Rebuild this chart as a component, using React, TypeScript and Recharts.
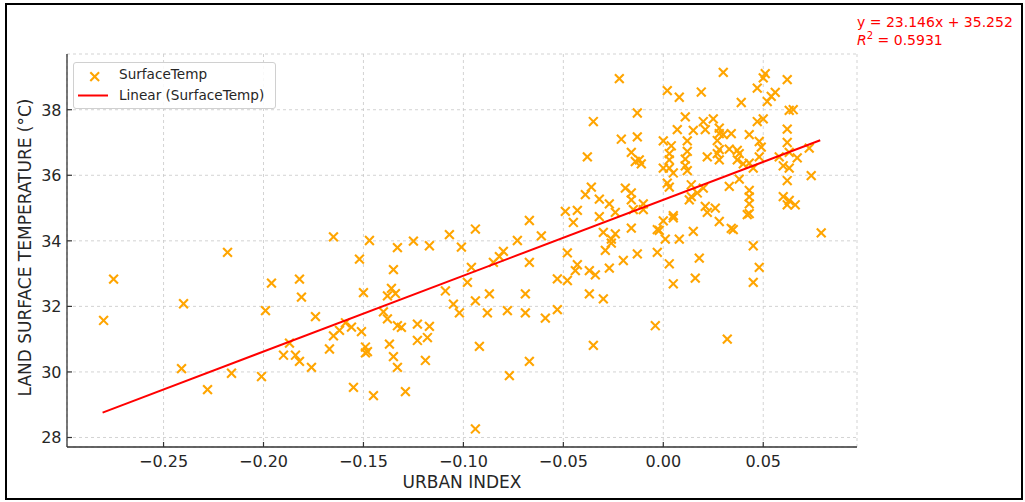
import React from 'react';
import { ScatterChart, Scatter, XAxis, YAxis, CartesianGrid } from 'recharts';

// urban index vs land surface temperature
const urbanIndex = [
  -0.280, -0.275, -0.241, -0.240, -0.228, -0.218, -0.216, -0.201, -0.199, -0.196,
  -0.190, -0.187, -0.184, -0.182, -0.181, -0.182, -0.176, -0.174, -0.167, -0.165,
  -0.165, -0.162, -0.159, -0.156, -0.155, -0.152, -0.151, -0.150, -0.149, -0.148,
  -0.149, -0.147, -0.145, -0.140, -0.138, -0.138, -0.136, -0.137, -0.135, -0.135,
  -0.134, -0.133, -0.133, -0.133, -0.131, -0.129, -0.125, -0.123, -0.123, -0.119,
  -0.118, -0.117, -0.117, -0.109, -0.107, -0.105, -0.102, -0.101, -0.098, -0.096,
  -0.094, -0.094, -0.094, -0.092, -0.088, -0.087, -0.085, -0.082, -0.080, -0.078,
  -0.077, -0.073, -0.069, -0.069, -0.067, -0.067, -0.067, -0.061, -0.059, -0.053,
  -0.053, -0.049, -0.048, -0.048, -0.045, -0.043, -0.043, -0.044, -0.038, -0.039,
  -0.037, -0.037, -0.036, -0.035, -0.035, -0.034, -0.032, -0.032, -0.030, -0.030,
  -0.029, -0.027, -0.027, -0.026, -0.026, -0.024, -0.024, -0.022, -0.021, -0.020,
  -0.019, -0.016, -0.016, -0.016, -0.016, -0.015, -0.014, -0.013, -0.013, -0.013,
  -0.012, -0.011, -0.010, -0.010, -0.004, -0.003, -0.003, -0.002, 0.000, 0.000,
  0.000, 0.001, 0.002, 0.002, 0.003, 0.003, 0.003, 0.003, 0.003, 0.004,
  0.005, 0.005, 0.005, 0.005, 0.007, 0.008, 0.008, 0.011, 0.011, 0.011,
  0.012, 0.012, 0.012, 0.013, 0.014, 0.014, 0.015, 0.015, 0.016, 0.017,
  0.018, 0.019, 0.020, 0.020, 0.021, 0.021, 0.022, 0.022, 0.025, 0.026,
  0.027, 0.027, 0.028, 0.028, 0.028, 0.028, 0.028, 0.030, 0.030, 0.032,
  0.033, 0.033, 0.034, 0.034, 0.035, 0.037, 0.037, 0.038, 0.038, 0.039,
  0.040, 0.042, 0.043, 0.043, 0.043, 0.043, 0.043, 0.043, 0.045, 0.045,
  0.045, 0.047, 0.047, 0.048, 0.048, 0.048, 0.049, 0.050, 0.050, 0.051,
  0.052, 0.054, 0.056, 0.058, 0.060, 0.060, 0.062, 0.062, 0.062, 0.062,
  0.062, 0.063, 0.063, 0.063, 0.063, 0.065, 0.066, 0.067, 0.073, 0.074,
  0.079,
];

const surfaceTemp = [
  31.57, 32.83, 30.10, 32.08, 29.46, 33.65, 29.96, 29.86, 31.87, 32.71,
  30.51, 30.88, 30.51, 32.83, 32.28, 30.32, 30.14, 31.69, 30.70, 34.12,
  31.10, 31.27, 31.50, 31.37, 29.53, 33.44, 31.23, 32.42, 30.76, 30.62,
  30.58, 34.01, 29.28, 31.83, 31.62, 32.32, 32.55, 30.85, 33.12, 30.47,
  32.39, 31.41, 30.14, 33.79, 31.36, 29.40, 33.99, 31.46, 30.96, 30.35,
  31.05, 31.39, 33.85, 32.47, 34.19, 32.07, 31.80, 33.81, 32.73, 33.19,
  34.36, 32.17, 28.26, 30.78, 31.80, 32.38, 33.34, 33.52, 33.68, 31.87,
  29.89, 34.01, 32.38, 31.80, 34.62, 33.34, 30.32, 34.15, 31.64, 32.84,
  31.90, 34.90, 33.63, 32.79, 34.56, 34.93, 33.27, 33.09, 36.56, 35.41,
  33.09, 32.38, 35.64, 37.64, 30.81, 32.96, 34.74, 35.27, 34.26, 32.23,
  33.71, 35.13, 33.17, 34.05, 33.93, 34.87, 34.21, 38.95, 37.10, 33.40,
  35.61, 36.70, 35.46, 35.25, 34.39, 34.95, 36.42, 37.90, 37.17, 33.60,
  36.47, 36.35, 35.13, 34.95, 31.41, 34.34, 33.65, 34.32, 37.05, 36.22,
  34.61, 34.05, 38.58, 35.76, 36.66, 36.47, 36.22, 35.64, 33.30, 36.90,
  36.07, 34.77, 34.70, 32.69, 37.39, 38.38, 34.05, 37.78, 36.49, 36.29,
  37.05, 36.73, 36.14, 35.25, 35.71, 35.35, 37.37, 34.29, 32.86, 35.46,
  33.47, 38.54, 37.64, 35.61, 37.39, 35.05, 36.56, 34.87, 37.72, 35.00,
  37.06, 36.66, 37.44, 37.27, 36.47, 36.78, 34.59, 39.14, 37.24, 31.00,
  36.80, 35.66, 37.27, 34.38, 34.34, 36.76, 36.47, 36.66, 35.88, 38.22,
  36.35, 34.80, 37.24, 36.37, 35.54, 35.34, 35.13, 34.83, 36.22, 33.85,
  32.73, 37.64, 38.66, 36.56, 37.03, 33.19, 36.86, 37.72, 38.97, 39.10,
  38.25, 38.41, 38.53, 36.56, 36.29, 35.35, 38.92, 37.41, 35.84, 35.10,
  37.00, 36.70, 36.22, 37.98, 35.23, 38.00, 35.10, 36.53, 36.83, 35.99,
  34.24,
];

// least-squares fit shown on the chart
const slope = 23.146;
const intercept = 35.252;
const r2 = 0.5931;
const fitRange = [-0.2805, 0.0785];

const xTicks = [-0.25, -0.2, -0.15, -0.1, -0.05, 0, 0.05];
const yTicks = [28, 30, 32, 34, 36, 38];

const points = urbanIndex.map((x, i) => ({ x, y: surfaceTemp[i] }));
const trend = fitRange.map((x) => ({ x, y: slope * x + intercept }));

const FONT = '"DejaVu Sans", sans-serif';
const ORANGE = '#ffa500';
const AXIS = '#333333';
const TEXT = '#262626';

const XMark = (props: any) => {
  const { cx, cy } = props;
  const r = 4.4;
  return (
    <g stroke={ORANGE} strokeWidth={2.1}>
      <line x1={cx - r} y1={cy - r} x2={cx + r} y2={cy + r} />
      <line x1={cx - r} y1={cy + r} x2={cx + r} y2={cy - r} />
    </g>
  );
};

const fmtX = (v: number) => v.toFixed(2).replace('-', '\u2212');

const XTick = (props: any) => {
  const { x, y, payload } = props;
  return (
    <g>
      <line x1={x} y1={y} x2={x} y2={y - 5} stroke={AXIS} strokeWidth={1.2} />
      <text x={x} y={y + 19.5} textAnchor="middle" fontSize={16} fill={TEXT} fontFamily={FONT}>
        {fmtX(payload.value)}
      </text>
    </g>
  );
};

const YTick = (props: any) => {
  const { x, y, payload } = props;
  return (
    <g>
      <line x1={x} y1={y} x2={x + 5} y2={y} stroke={AXIS} strokeWidth={1.2} />
      <text x={x - 5.5} y={y + 5.8} textAnchor="end" fontSize={16} fill={TEXT} fontFamily={FONT}>
        {payload.value}
      </text>
    </g>
  );
};

export default function App() {
  return (
    <div style={{ position: 'absolute', left: 0, top: 0, width: 1025, height: 502, background: '#fff', fontFamily: FONT }}>
      <div style={{ position: 'absolute', left: 5, top: 3, width: 1014, height: 493, border: '2px solid #000' }} />
      <ScatterChart width={1025} height={502} margin={{ top: 54, right: 168, bottom: 0, left: 0 }}>
        <CartesianGrid stroke="#c8c8c8" strokeDasharray="3 3" strokeWidth={0.8} />
        <XAxis
          type="number"
          dataKey="x"
          domain={[-0.2983, 0.0969]}
          ticks={xTicks}
          allowDataOverflow
          height={55}
          tickSize={0}
          tickMargin={0}
          tickLine={false}
          tick={<XTick />}
          axisLine={{ stroke: AXIS, strokeWidth: 1.3 }}
          label={{ value: 'URBAN INDEX', position: 'insideBottom', offset: 14, fill: TEXT, fontSize: 17, fontFamily: FONT }}
        />
        <YAxis
          type="number"
          dataKey="y"
          domain={[27.71, 39.7]}
          ticks={yTicks}
          allowDataOverflow
          width={67}
          tickSize={0}
          tickMargin={0}
          tickLine={false}
          tick={<YTick />}
          axisLine={{ stroke: AXIS, strokeWidth: 1.3 }}
          label={{
            value: 'LAND SURFACE TEMPERATURE (°C)',
            angle: -90,
            position: 'insideLeft',
            offset: 25,
            dy: -3,
            fill: TEXT,
            fontSize: 17,
            fontFamily: FONT,
            style: { textAnchor: 'middle' },
          }}
        />
        <Scatter data={points} shape={<XMark />} isAnimationActive={false} />
        <Scatter
          data={trend}
          line={{ stroke: '#ff0000', strokeWidth: 2 }}
          shape={() => <g />}
          isAnimationActive={false}
        />
      </ScatterChart>

      <div
        style={{
          position: 'absolute', left: 73, top: 62, width: 201, height: 45,
          border: '1px solid #d0d0d0', borderRadius: 3, background: 'rgba(255,255,255,0.85)',
          fontSize: 13.6, color: TEXT,
        }}
      >
        <svg width={40} height={45} style={{ position: 'absolute', left: 0, top: 0 }}>
          <g stroke={ORANGE} strokeWidth={2.1}>
            <line x1={16.3} y1={9.3} x2={25.1} y2={18.1} />
            <line x1={16.3} y1={18.1} x2={25.1} y2={9.3} />
          </g>
          <line x1={4} y1={32.5} x2={34} y2={32.5} stroke="#ff0000" strokeWidth={2} />
        </svg>
        <div style={{ position: 'absolute', left: 45, top: 3, lineHeight: '17px' }}>SurfaceTemp</div>
        <div style={{ position: 'absolute', left: 45, top: 24, lineHeight: '17px' }}>Linear (SurfaceTemp)</div>
      </div>

      <div style={{ position: 'absolute', left: 857, top: 13, fontSize: 14, color: '#ff0000', lineHeight: '18px' }}>
        <div>y = {slope.toFixed(3)}x + {intercept.toFixed(3)}</div>
        <div>
          <i>R</i>
          <sup style={{ fontSize: 10, lineHeight: 0 }}>2</sup> = {r2.toFixed(4)}
        </div>
      </div>
    </div>
  );
}
